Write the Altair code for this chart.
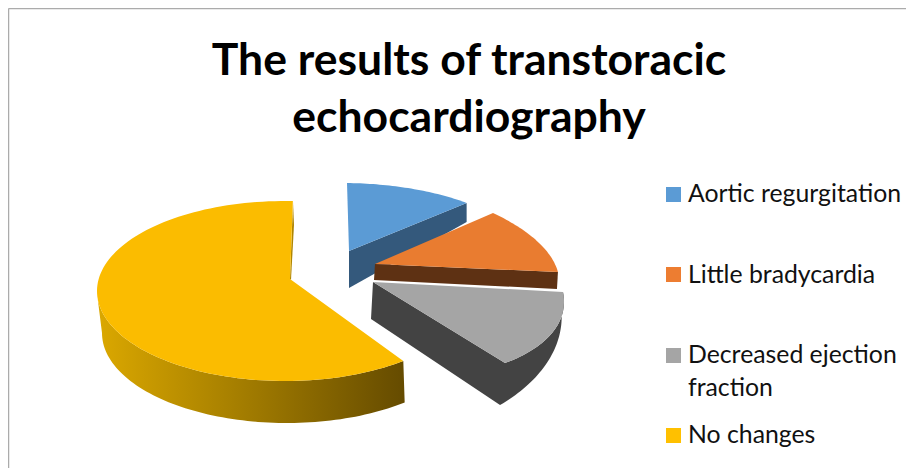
import math
import altair as alt
import pandas as pd

# ---- chart values ----
categories = ["Aortic regurgitation", "Little bradycardia", "Decreased ejection fraction", "No changes"]
shares = [12, 12, 14.5, 61.5]
legend_lines = [["Aortic regurgitation"], ["Little bradycardia"], ["Decreased ejection", "fraction"], ["No changes"]]
title_lines = ["The results of transtoracic", "echocardiography"]

# ---- styling ----
face = ["#5B9BD5", "#E97C30", "#A5A5A5", "#FBBC00"]
side = ["#34597C", "#5E3113", "#434343", "#8A6A00"]
W, H = 898, 460

# ---- 3-D look: where each wedge sits on the tilted plane (page pixels) ----
tips = [(349, 251), (375, 264), (373, 282)]
tips_low = [(349, 288), (374, 280), (371, 319)]
axis_v = [(-2, -68), (118, -51), (190, 10)]
axis_u = [(174, 2.3), (141.6, 66), (19.7, 94.8)]
ends_low_shift = [(0, 19), (-1, 17), None]


def rim(i, n=40):
    sweep = math.radians(shares[i] * 3.6)
    out = []
    for k in range(n + 1):
        t = sweep * k / n
        out.append((tips[i][0] + axis_u[i][0] * math.sin(t) + axis_v[i][0] * math.cos(t),
                    tips[i][1] + axis_u[i][1] * math.sin(t) + axis_v[i][1] * math.cos(t)))
    return out


rows = []


def add(part, pts):
    for s, (x, y) in enumerate(pts):
        rows.append({"part": part, "seq": s, "x": x, "y": y})


# No changes: a full ellipse rim cut by its share
y_end = 362.4
y_sweep = math.radians(shares[3] * 3.6)
y_start = math.radians(y_end) - y_sweep
y_top = [(285 + 188 * math.sin(y_start + y_sweep * k / 120), 291 - 90 * math.cos(y_start + y_sweep * k / 120))
         for k in range(121)]
y_tip = (290, 279)
front = [k for k in range(121) if 90 <= math.degrees(y_start + y_sweep * k / 120) <= 270]
front_top = [y_top[k] for k in front]
low_from = math.radians(140.5)
low_to = math.radians(270)
front_low = [(287 + 185 * math.sin(low_from + (low_to - low_from) * k / 80),
              333 - 90 * math.cos(low_from + (low_to - low_from) * k / 80)) for k in range(81)]
add("y_side", [y_top[0]] + front_top + front_low[::-1])
add("y_sliver", [(293, 202), (294, 225), (291, 280), (290, 279)])
add("y_face", [y_tip] + y_top + [y_tip])

# Decreased ejection fraction
grey = rim(2)
sw = math.radians(shares[2] * 3.6)
low_v, low_u = (190, -12), (15.9, 118.2)
grey_low = [(tips_low[2][0] + low_u[0] * math.sin(sw * k / 40) + low_v[0] * math.cos(sw * k / 40),
             tips_low[2][1] + low_u[1] * math.sin(sw * k / 40) + low_v[1] * math.cos(sw * k / 40))
            for k in range(41)]
add("g_side", [tips[2], grey[-1]] + grey[::-1] + grey_low + [tips_low[2]])
add("g_face", [tips[2]] + grey + [tips[2]])

# Aortic regurgitation and little bradycardia
for i, (sname, fname) in enumerate([("b_side", "b_face"), ("o_side", "o_face")]):
    r = rim(i)
    e = r[-1]
    sh = ends_low_shift[i]
    add(sname, [tips[i], e, (e[0] + sh[0], e[1] + sh[1]), tips_low[i]])
    add(fname, [tips[i]] + r + [tips[i]])

df = pd.DataFrame(rows)

xs = alt.Scale(domain=[8, 8 + W], range=[0, W], nice=False, zero=False)
ys = alt.Scale(domain=[8, 8 + H], range=[0, H], nice=False, zero=False)
X = alt.X("x:Q", scale=xs, axis=None)
Y = alt.Y("y:Q", scale=ys, axis=None)


def poly(part, fill):
    return (alt.Chart(df[df.part == part])
            .mark_line(fill=fill, stroke=None, strokeWidth=0, interpolate="linear-closed")
            .encode(x=X, y=Y, order="seq:Q"))


gold = alt.Gradient(gradient="linear", x1=0, x2=1, y1=0, y2=0,
                    stops=[alt.GradientStop(color="#DBA800", offset=0),
                           alt.GradientStop(color="#A67F00", offset=0.45),
                           alt.GradientStop(color="#654B00", offset=1)])

layers = [
    poly("y_side", gold),
    poly("y_sliver", "#B08600"),
    poly("y_face", face[3]),
    poly("g_side", side[2]),
    poly("g_face", face[2]),
    poly("b_side", side[0]),
    poly("b_face", face[0]),
    poly("o_side", side[1]),
    poly("o_face", face[1]),
]

# frame
frame_a = alt.Chart(pd.DataFrame({"x": [8.5], "x2": [8.0 + W], "y": [8.5]})).mark_rule(
    color="#ABABAB", strokeWidth=1.5).encode(x=X, x2="x2:Q", y=Y)
frame_b = alt.Chart(pd.DataFrame({"x": [8.5], "y": [8.5], "y2": [8.0 + H]})).mark_rule(
    color="#ABABAB", strokeWidth=1.5).encode(x=X, y=Y, y2="y2:Q")
layers += [frame_a, frame_b]

# title
title_y = [75, 132]
title_df = pd.DataFrame({"t": title_lines, "x": [469, 469], "y": title_y})
layers.append(alt.Chart(title_df).mark_text(font="Lato", fontWeight="bold", fontSize=44.5, align="center",
                                             baseline="alphabetic", color="#000000")
              .encode(x=X, y=Y, text="t:N"))

# legend
square_y = [194.5, 274.5, 355.5, 435.5]
text_y = [[202], [283], [363, 396], [443]]
sq_df = pd.DataFrame({"c": categories, "x": [673.5] * 4, "y": square_y})
layers.append(alt.Chart(sq_df).mark_square(size=225, opacity=1, strokeWidth=0)
              .encode(x=X, y=Y,
                      color=alt.Color("c:N", scale=alt.Scale(domain=categories, range=["#5B9BD5", "#ED7D31", "#A5A5A5", "#FFC000"]),
                                      legend=None)))
leg_rows = [{"t": line, "x": 688, "y": yy}
            for lines, yy_list in zip(legend_lines, text_y) for line, yy in zip(lines, yy_list)]
layers.append(alt.Chart(pd.DataFrame(leg_rows)).mark_text(font="Lato", fontSize=24.8, align="left",
                                                           baseline="alphabetic", color="#111111")
              .encode(x=X, y=Y, text="t:N"))

chart = (alt.layer(*layers)
         .resolve_scale(color="independent")
         .properties(width=W, height=H, padding=0, autosize=alt.AutoSizeParams(type="none"),
                     background="white")
         .configure_view(stroke=None))

chart.save("out.html", embed_options={"renderer": "svg", "actions": False})
